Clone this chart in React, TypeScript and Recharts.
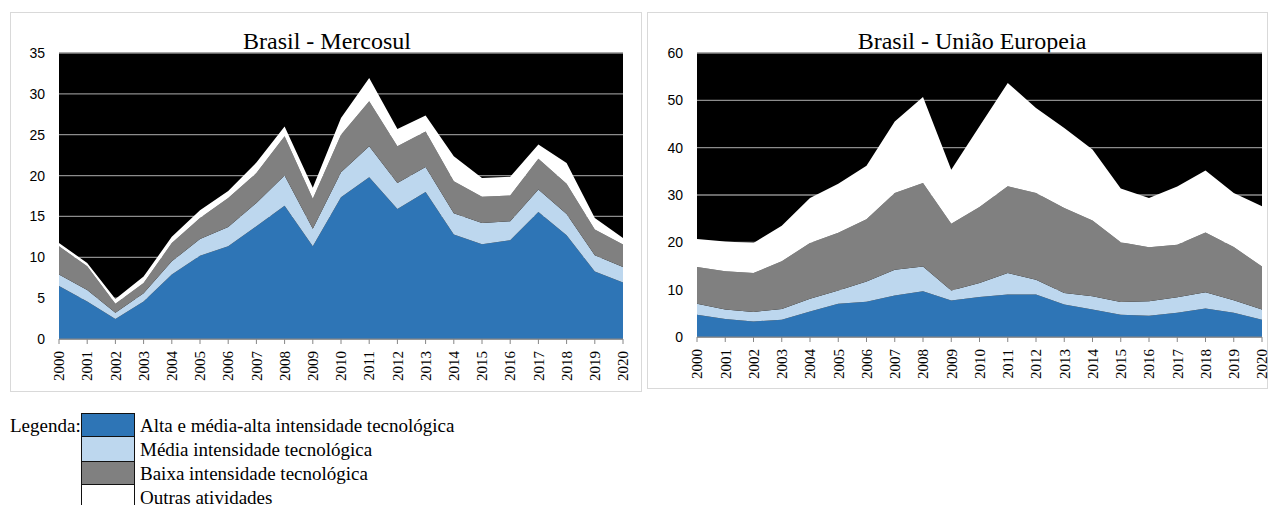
import React from 'react';
import { AreaChart, Area, XAxis, YAxis, CartesianGrid } from 'recharts';

const years = ['2000', '2001', '2002', '2003', '2004', '2005', '2006', '2007', '2008', '2009', '2010',
    '2011', '2012', '2013', '2014', '2015', '2016', '2017', '2018', '2019', '2020'];

// Brasil - Mercosul (stacked bands)
const mercoAlta = [6.5, 4.6, 2.45, 4.6, 7.9, 10.2, 11.35, 13.8, 16.3, 11.35, 17.35, 19.8, 15.9, 18.0, 12.8, 11.6, 12.1, 15.55, 12.7, 8.25, 6.9];
const mercoMedia = [1.4, 1.4, 0.75, 1.0, 1.6, 2.05, 2.35, 2.85, 3.7, 2.15, 3.05, 3.8, 3.2, 3.05, 2.6, 2.6, 2.3, 2.75, 2.6, 2.0, 1.9];
const mercoBaixa = [3.45, 2.9, 1.1, 1.25, 2.25, 2.55, 3.55, 3.65, 4.8, 3.65, 4.6, 5.5, 4.5, 4.35, 3.9, 3.2, 3.15, 3.75, 3.7, 3.15, 2.75];
const mercoOutras = [0.4, 0.4, 0.6, 0.8, 0.75, 0.95, 0.85, 1.3, 1.2, 1.35, 2.05, 2.85, 2.1, 1.95, 3.05, 2.3, 2.3, 1.75, 2.55, 1.4, 0.8];

// Brasil - União Europeia
const ueAlta = [4.7, 3.8, 3.3, 3.65, 5.4, 7.0, 7.45, 8.75, 9.65, 7.7, 8.45, 9.0, 9.0, 6.85, 5.8, 4.7, 4.5, 5.1, 6.0, 5.1, 3.65];
const ueMedia = [2.35, 2.0, 2.0, 2.25, 2.7, 2.85, 4.3, 5.45, 5.25, 2.1, 2.95, 4.5, 3.1, 2.45, 2.8, 2.7, 3.05, 3.3, 3.45, 2.65, 2.15];
const ueBaixa = [7.75, 8.1, 8.2, 10.1, 11.75, 12.15, 13.15, 16.2, 17.65, 14.15, 16.05, 18.35, 18.3, 17.95, 16.0, 12.6, 11.4, 11.1, 12.65, 11.25, 9.1];
const ueOutras = [5.9, 6.3, 6.35, 7.5, 9.5, 10.4, 11.3, 15.15, 18.15, 11.4, 17.05, 21.8, 18.0, 16.9, 15.0, 11.35, 10.4, 12.3, 13.1, 11.4, 12.7];

const mercoTicks = [0, 5, 10, 15, 20, 25, 30, 35];
const ueTicks = [0, 10, 20, 30, 40, 50, 60];

const series = [
    { key: 'alta', name: 'Alta e média-alta intensidade tecnológica', color: '#2E75B6' },
    { key: 'media', name: 'Média intensidade tecnológica', color: '#BDD7EE' },
    { key: 'baixa', name: 'Baixa intensidade tecnológica', color: '#808080' },
    { key: 'outras', name: 'Outras atividades', color: '#FFFFFF' },
];

const buildRows = (alta: number[], media: number[], baixa: number[], outras: number[]) =>
    years.map((year, i) => ({ year, alta: alta[i], media: media[i], baixa: baixa[i], outras: outras[i] }));

const YearTick = ({ x, y, payload }: any) => (
    <text x={x} y={y} transform={`rotate(-90 ${x} ${y})`} textAnchor="end" dy="0.35em"
        fontFamily="'Liberation Serif', serif" fontSize={15} fill="#000">
        {payload.value}
    </text>
);

interface PanelProps {
    title: string;
    rows: any[];
    ticks: number[];
    left: number;
    width: number;
    height: number;
    yWidth: number;
    marginRight: number;
    marginBottom: number;
    titleCenter: number;
}

const Panel: React.FC<PanelProps> = ({ title, rows, ticks, left, width, height, yWidth, marginRight, marginBottom, titleCenter }) => (
    <div style={{ position: 'absolute', left, top: 12, width, height, boxSizing: 'border-box', border: '1px solid #D9D9D9' }}>
        <div style={{ position: 'absolute', left: titleCenter - 200, top: 14, width: 400, textAlign: 'center',
            fontFamily: "'Liberation Serif', serif", fontSize: 24, lineHeight: '28px', color: '#000' }}>
            {title}
        </div>
        <div style={{ position: 'absolute', left: -1, top: -1 }}>
            <AreaChart width={width} height={height} data={rows} style={{ overflow: 'visible' }}
                margin={{ top: 41, right: marginRight, left: 0, bottom: marginBottom }}>
                <CartesianGrid vertical={false} fill="#000" stroke="#8C8C8C" strokeWidth={1.3} fillOpacity={1} />
                <XAxis dataKey="year" height={50} interval={0} tick={<YearTick />}
                    axisLine={{ stroke: '#868686' }} tickLine={{ stroke: '#868686' }} tickSize={5} tickMargin={7} />
                <YAxis width={yWidth} domain={[ticks[0], ticks[ticks.length - 1]]} ticks={ticks} interval={0}
                    axisLine={false} tickLine={false} tickSize={0} tickMargin={14}
                    tick={{ fontFamily: "'Liberation Sans', sans-serif", fontSize: 14, fill: '#000' }} />
                {series.map((s) => (
                    <Area key={s.key} type="linear" dataKey={s.key} name={s.name} stackId="1"
                        stroke="none" fill={s.color} fillOpacity={1} isAnimationActive={false} dot={false} activeDot={false} />
                ))}
            </AreaChart>
        </div>
    </div>
);

const LegendBlock: React.FC = () => (
    <div style={{ position: 'absolute', left: 0, top: 413, fontFamily: "'Liberation Serif', serif", fontSize: 19, color: '#000' }}>
        <div style={{ position: 'absolute', left: 10, top: 1, lineHeight: '24px', whiteSpace: 'nowrap' }}>Legenda:</div>
        {series.map((s, i) => (
            <React.Fragment key={s.key}>
                <div style={{ position: 'absolute', left: 81, top: i * 24, width: 54, height: 24, boxSizing: 'border-box',
                    background: s.color, borderLeft: '1px solid #111', borderRight: '1px solid #111',
                    borderTop: i === 0 || i === 2 ? '1px solid #111' : 'none',
                    borderBottom: i === 0 || i === 2 ? '1px solid #111' : 'none' }} />
                <div style={{ position: 'absolute', left: 140, top: i * 24 + 1, lineHeight: '24px', whiteSpace: 'nowrap' }}>{s.name}</div>
            </React.Fragment>
        ))}
    </div>
);

export default function App() {
    const mercoRows = buildRows(mercoAlta, mercoMedia, mercoBaixa, mercoOutras);
    const ueRows = buildRows(ueAlta, ueMedia, ueBaixa, ueOutras);
    return (
        <div style={{ position: 'absolute', left: 0, top: 0, width: 1270, height: 505, background: '#fff', overflow: 'hidden' }}>
            <Panel title="Brasil - Mercosul" rows={mercoRows} ticks={mercoTicks} left={10} width={632} height={380}
                yWidth={49} marginRight={19} marginBottom={3} titleCenter={316} />
            <Panel title="Brasil - União Europeia" rows={ueRows} ticks={ueTicks} left={647} width={621} height={377}
                yWidth={50} marginRight={6} marginBottom={2} titleCenter={324} />
            <LegendBlock />
        </div>
    );
}
